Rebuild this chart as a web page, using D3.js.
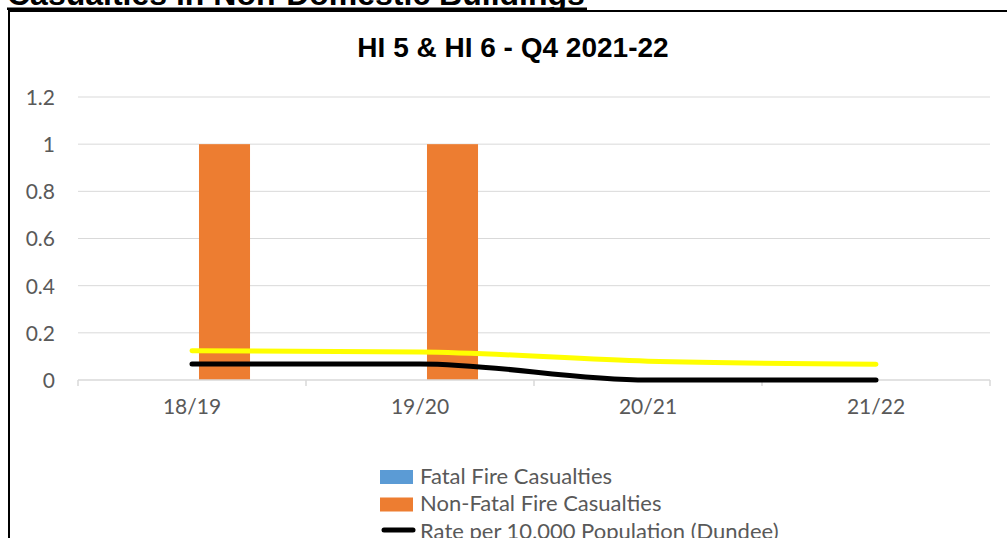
<!DOCTYPE html>
<html>
<head>
<meta charset="utf-8">
<script src="https://cdn.jsdelivr.net/npm/d3@7"></script>
<style>
  body { margin: 0; background: #fff; overflow: hidden; }
  text { font-family: Lato, "Open Sans", sans-serif; }
</style>
</head>
<body>
<div id="vis"></div>
<script>
// chart data
var seasons = ["18/19", "19/20", "20/21", "21/22"];
var fatalCasualties = [0, 0, 0, 0];
var nonFatalCasualties = [1, 1, 0, 0];
var rateDundee = [0.068, 0.068, 0, 0];
var rateScotland = [0.124, 0.119, 0.08, 0.067];
var yTicks = [0, 0.2, 0.4, 0.6, 0.8, 1, 1.2];
var barSeries = ["Fatal Fire Casualties", "Non-Fatal Fire Casualties"];
var lineSeries = ["Rate per 10,000 Population (Dundee)", "Rate per 10,000 Population (Scotland)"];

function fireChart() {
  var width = 1007;
  var height = 538;
  var margin = { left: 78, right: 17, top: 97, bottom: 158 };

  var fillColor = d3.scaleOrdinal()
    .domain(barSeries)
    .range(["#5B9BD5", "#ED7D31"]);
  var lineColor = d3.scaleOrdinal()
    .domain(lineSeries)
    .range(["#000000", "#FFFF00"]);

  var svg = d3.select("#vis").append("svg")
    .attr("width", width)
    .attr("height", height);

  // outer frame of the chart object
  svg.append("rect")
    .attr("x", 9)
    .attr("y", 11)
    .attr("width", width + 10)
    .attr("height", height + 10)
    .attr("fill", "none")
    .attr("stroke", "#000")
    .attr("stroke-width", 2);

  // page heading, cut off at the top
  svg.append("text")
    .attr("x", 7)
    .attr("y", 5)
    .style("font-family", "Arial, 'Liberation Sans', sans-serif")
    .style("font-weight", "bold")
    .style("font-size", "32px")
    .attr("fill", "#000")
    .text("Casualties in Non-Domestic Buildings");
  svg.append("rect")
    .attr("x", 7)
    .attr("y", 7.5)
    .attr("width", 580)
    .attr("height", 2.5)
    .attr("fill", "#000");

  // chart title
  svg.append("text")
    .attr("x", 513)
    .attr("y", 57)
    .attr("text-anchor", "middle")
    .style("font-family", "Arial, 'Liberation Sans', sans-serif")
    .style("font-weight", "bold")
    .style("font-size", "28px")
    .attr("fill", "#000")
    .text("HI 5 & HI 6 - Q4 2021-22");

  var x = d3.scaleBand()
    .domain(seasons)
    .range([margin.left, width - margin.right]);

  // two bars per season with a small gap between them
  var x1 = d3.scaleBand()
    .domain(barSeries)
    .range([0, x.bandwidth()])
    .paddingInner(0.215)
    .paddingOuter(0.861);

  var y = d3.scaleLinear()
    .domain([0, 1.2])
    .range([height - margin.bottom, margin.top]);

  // gridlines
  svg.append("g")
    .selectAll("line")
    .data(yTicks.slice(1))
    .enter().append("line")
    .attr("x1", margin.left)
    .attr("x2", width - margin.right)
    .attr("y1", function (d) { return y(d); })
    .attr("y2", function (d) { return y(d); })
    .attr("stroke", "#D9D9D9")
    .attr("stroke-width", 1);

  // y axis labels
  var yAxis = svg.append("g")
    .attr("transform", "translate(" + (margin.left - 23) + ",0)")
    .call(d3.axisLeft(y).tickValues(yTicks).tickSize(0).tickPadding(0)
      .tickFormat(function (d) { return d3.format("~g")(d); }));
  yAxis.select(".domain").remove();
  yAxis.selectAll("text")
    .attr("dy", "0.35em")
    .style("font-family", "Lato, sans-serif")
    .style("font-size", "21px")
    .attr("fill", "#595959");

  // bars
  var barData = [];
  seasons.forEach(function (s, i) {
    barData.push({ season: s, series: barSeries[0], value: fatalCasualties[i] });
    barData.push({ season: s, series: barSeries[1], value: nonFatalCasualties[i] });
  });

  svg.append("g")
    .selectAll("rect")
    .data(barData)
    .enter().append("rect")
    .attr("x", function (d) { return x(d.season) + x1(d.series); })
    .attr("width", x1.bandwidth())
    .attr("y", function (d) { return y(d.value); })
    .attr("height", function (d) { return y(0) - y(d.value); })
    .attr("fill", function (d) { return fillColor(d.series); });

  // x axis
  var xAxis = svg.append("g")
    .attr("transform", "translate(0," + y(0) + ")")
    .call(d3.axisBottom(x).tickSize(0).tickPadding(19));
  xAxis.select(".domain")
    .attr("stroke", "#D9D9D9")
    .attr("stroke-width", 1.5)
    .attr("d", "M" + margin.left + ",0H" + (width - margin.right));
  xAxis.selectAll("text")
    .attr("dy", "0.71em")
    .style("font-family", "Lato, sans-serif")
    .style("font-size", "21px")
    .attr("fill", "#595959");

  // category boundary tick marks
  var boundaries = seasons.map(function (s) { return x(s); });
  boundaries.push(x(seasons[seasons.length - 1]) + x.bandwidth());
  svg.append("g")
    .selectAll("line")
    .data(boundaries)
    .enter().append("line")
    .attr("x1", function (d) { return d; })
    .attr("x2", function (d) { return d; })
    .attr("y1", y(0))
    .attr("y2", y(0) + 6)
    .attr("stroke", "#D9D9D9")
    .attr("stroke-width", 1.5);

  // rate lines
  var line = d3.line()
    .x(function (d, i) { return x(seasons[i]) + x.bandwidth() / 2; })
    .y(function (d) { return y(d); })
    .curve(d3.curveMonotoneX);

  var lineData = [
    { name: lineSeries[1], values: rateScotland },
    { name: lineSeries[0], values: rateDundee }
  ];

  svg.append("g")
    .selectAll("path")
    .data(lineData)
    .enter().append("path")
    .attr("d", function (d) { return line(d.values); })
    .attr("fill", "none")
    .attr("stroke", function (d) { return lineColor(d.name); })
    .attr("stroke-width", 5)
    .attr("stroke-linecap", "round")
    .attr("stroke-linejoin", "round");

  // legend
  var legend = svg.append("g")
    .attr("transform", "translate(380,470)");

  legend.selectAll("rect")
    .data(barSeries)
    .enter().append("rect")
    .attr("x", 0)
    .attr("y", function (d, i) { return i * 27.5; })
    .attr("width", 33)
    .attr("height", 14)
    .attr("fill", function (d) { return fillColor(d); });

  legend.append("line")
    .attr("x1", 4)
    .attr("x2", 33)
    .attr("y1", 60)
    .attr("y2", 60)
    .attr("stroke", lineColor(lineSeries[0]))
    .attr("stroke-width", 5)
    .attr("stroke-linecap", "round");

  legend.selectAll("text")
    .data(barSeries.concat([lineSeries[0]]))
    .enter().append("text")
    .attr("x", 40)
    .attr("y", function (d, i) { return 13.5 + i * 27.5; })
    .style("font-family", "Lato, sans-serif")
    .style("font-size", "22px")
    .attr("fill", "#595959")
    .text(function (d) { return d; });
}

fireChart();
</script>
</body>
</html>
